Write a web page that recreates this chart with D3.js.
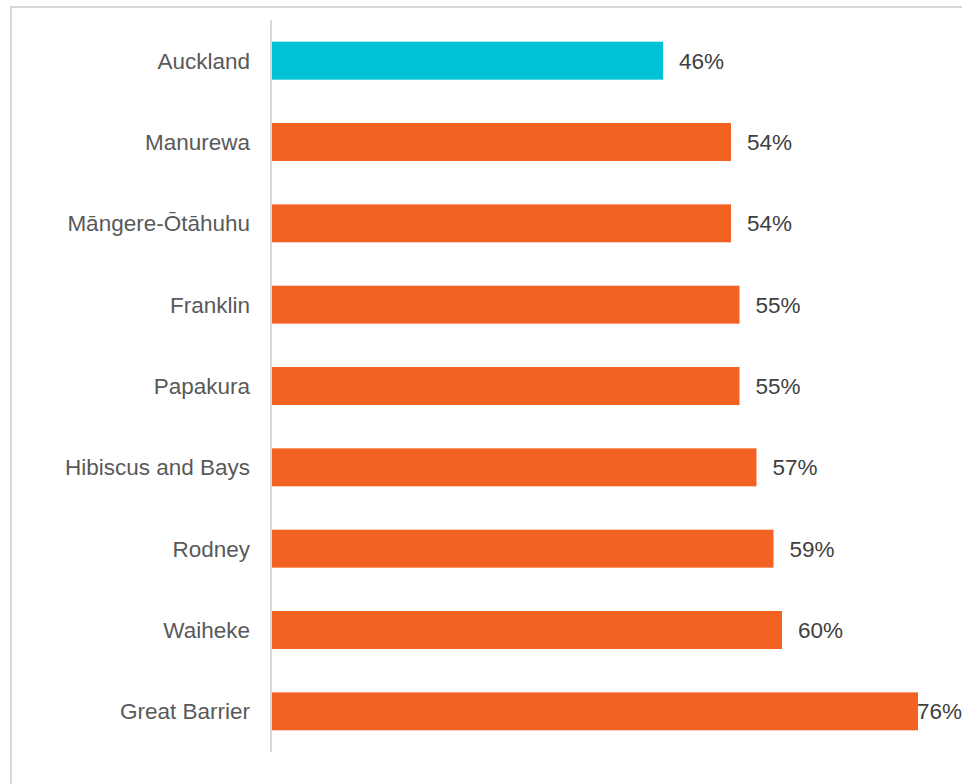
<!DOCTYPE html>
<html>
<head>
<meta charset="utf-8">
<script src="https://cdn.jsdelivr.net/npm/d3@7"></script>
<style>
  html, body { margin: 0; padding: 0; background: #ffffff; }
  svg { display: block; }
</style>
</head>
<body>
<svg id="chart" width="962" height="784"></svg>
<script>
const categories = ["Auckland", "Manurewa", "Māngere-Ōtāhuhu", "Franklin", "Papakura", "Hibiscus and Bays", "Rodney", "Waiheke", "Great Barrier"];
const values = [46, 54, 54, 55, 55, 57, 59, 60, 76];
const highlight = ["Auckland"];

const W = 962, H = 784;
const svg = d3.select("#chart");
const font = "'Liberation Sans', Arial, sans-serif";

// frame
svg.append("rect")
  .attr("x", 11).attr("y", 7)
  .attr("width", 1000).attr("height", 900)
  .attr("fill", "none").attr("stroke", "#d9d9d9").attr("stroke-width", 2);

const x0 = 272;
const x = d3.scaleLinear().domain([0, 100]).range([x0, x0 + 850]);
const y = d3.scaleBand().domain(categories).range([20, 752])
  .paddingInner(0.533).paddingOuter(0.2665);

const data = categories.map((c, i) => ({ c, v: values[i] }));

svg.selectAll("rect.bar").data(data).enter().append("rect")
  .attr("class", "bar")
  .attr("x", x(0))
  .attr("y", d => y(d.c))
  .attr("width", d => x(d.v) - x(0))
  .attr("height", y.bandwidth())
  .attr("fill", d => highlight.includes(d.c) ? "#00C2D6" : "#F26223");

// axis line
svg.append("line")
  .attr("x1", 271).attr("x2", 271)
  .attr("y1", 20).attr("y2", 752)
  .attr("stroke", "#d9d9d9").attr("stroke-width", 2);

// category labels
svg.selectAll("text.cat").data(data).enter().append("text")
  .attr("class", "cat")
  .attr("x", 250)
  .attr("y", d => y(d.c) + y.bandwidth() / 2)
  .attr("dy", "0.35em")
  .attr("text-anchor", "end")
  .attr("font-family", font)
  .attr("font-size", 22.5)
  .attr("fill", "#595959")
  .text(d => d.c);

// value labels
svg.selectAll("text.val").data(data).enter().append("text")
  .attr("class", "val")
  .attr("y", d => y(d.c) + y.bandwidth() / 2)
  .attr("dy", "0.35em")
  .attr("font-family", font)
  .attr("font-size", 22.5)
  .attr("fill", "#404040")
  .text(d => d.v + "%")
  .each(function(d) {
    const w = this.getComputedTextLength();
    const px = Math.min(x(d.v) + 16, W - w);
    d3.select(this).attr("x", px);
  });
</script>
</body>
</html>
